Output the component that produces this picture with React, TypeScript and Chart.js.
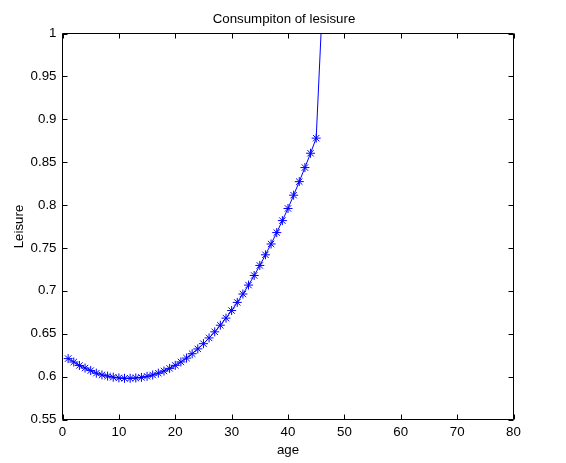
import React, { useEffect, useRef } from "react";
import { Chart, registerables } from "chart.js";

Chart.register(...registerables);

// ---- data ----
const ages = [
  1, 2, 3, 4, 5, 6, 7, 8, 9, 10, 11, 12, 13, 14, 15, 16, 17, 18, 19, 20, 21, 22, 23,
  24, 25, 26, 27, 28, 29, 30, 31, 32, 33, 34, 35, 36, 37, 38, 39, 40, 41, 42, 43, 44,
  45, 46,
];
const leisure = [
  0.621, 0.617, 0.613, 0.61, 0.607, 0.604, 0.602, 0.6006, 0.5993, 0.5985, 0.598,
  0.598, 0.5984, 0.5991, 0.6003, 0.6019, 0.604, 0.6065, 0.6096, 0.6131,
  0.6171, 0.6216, 0.6267, 0.6323, 0.6384, 0.6451, 0.6522, 0.6599, 0.6682, 0.677,
  0.6865, 0.6963, 0.7067, 0.7179, 0.7296, 0.742, 0.7546, 0.7679, 0.7819, 0.796,
  0.8115, 0.8273, 0.8437, 0.8604, 0.878, 1.02,
];
const xTickValues = [0, 10, 20, 30, 40, 50, 60, 70, 80];
const yTickValues = [0.55, 0.6, 0.65, 0.7, 0.75, 0.8, 0.85, 0.9, 0.95, 1];
const titleText = "Consumpiton of lesisure";
const xLabel = "age";
const yLabel = "Leisure";

const FONT = '"Liberation Sans", Arial, Helvetica, sans-serif';
const FONT_SIZE = 13.3;
const TICK = 5;

const decorPlugin = {
  id: "decor",
  afterDraw(chart: any) {
    const { ctx, chartArea } = chart;
    const { left, right, top, bottom } = chartArea;
    const xs = chart.scales.x;
    const ys = chart.scales.y;
    ctx.save();
    ctx.strokeStyle = "#000";
    ctx.lineWidth = 1;
    ctx.beginPath();
    ctx.rect(left, top, right - left, bottom - top);
    for (const v of xTickValues) {
      const px = Math.round(xs.getPixelForValue(v)) + 0.5;
      ctx.moveTo(px, bottom);
      ctx.lineTo(px, bottom - TICK);
      ctx.moveTo(px, top);
      ctx.lineTo(px, top + TICK);
    }
    for (const v of yTickValues) {
      const py = Math.round(ys.getPixelForValue(v)) + 0.5;
      ctx.moveTo(left, py);
      ctx.lineTo(left + TICK, py);
      ctx.moveTo(right, py);
      ctx.lineTo(right - TICK, py);
    }
    ctx.stroke();

    ctx.fillStyle = "#000";
    ctx.font = `${FONT_SIZE}px ${FONT}`;
    ctx.textAlign = "center";
    ctx.textBaseline = "alphabetic";
    const cx = (left + right) / 2;
    ctx.fillText(titleText, cx - 4, 23);
    ctx.fillText(xLabel, cx, 454);
    ctx.translate(23, (top + bottom) / 2);
    ctx.rotate(-Math.PI / 2);
    ctx.fillText(yLabel, 0, 0);
    ctx.restore();
  },
};

export default function App() {
  const canvasRef = useRef<HTMLCanvasElement | null>(null);

  useEffect(() => {
    const canvas = canvasRef.current;
    if (!canvas) return;
    const points = ages.map((a, i) => ({ x: a, y: leisure[i] }));
    const chart = new Chart(canvas, {
      type: "line",
      data: {
        datasets: [
          {
            data: points,
            borderColor: "#0000ff",
            backgroundColor: "#0000ff",
            borderWidth: 1,
            tension: 0,
            fill: false,
            pointStyle: "star",
            pointRadius: (c: any) => (c.dataIndex === ages.length - 1 ? 0 : 4.5),
            pointBorderColor: "#0000ff",
            pointBorderWidth: 1,
            pointHoverRadius: 4.5,
          },
        ],
      },
      options: {
        responsive: false,
        animation: false,
        devicePixelRatio: 1,
        layout: { padding: { left: 0, right: 52.5, top: 33.5, bottom: 0 } },
        plugins: {
          legend: { display: false },
          title: { display: false },
          tooltip: { enabled: false },
        },
        scales: {
          x: {
            type: "linear",
            min: 0,
            max: 80,
            grid: { display: false, drawTicks: false },
            border: { display: false },
            afterBuildTicks: (s: any) => {
              s.ticks = xTickValues.map((v) => ({ value: v }));
            },
            afterFit: (s: any) => {
              s.height = 43.5;
            },
            ticks: {
              color: "#000",
              padding: 4.5,
              maxRotation: 0,
              autoSkip: false,
              font: { family: FONT, size: FONT_SIZE },
              callback: (v: any) => String(v),
            },
          },
          y: {
            type: "linear",
            min: 0.55,
            max: 1,
            grid: { display: false, drawTicks: false },
            border: { display: false },
            afterBuildTicks: (s: any) => {
              s.ticks = yTickValues.map((v) => ({ value: v }));
            },
            afterFit: (s: any) => {
              s.width = 62.5;
            },
            ticks: {
              color: "#000",
              padding: 6,
              autoSkip: false,
              font: { family: FONT, size: FONT_SIZE },
              callback: (v: any) => String(parseFloat(Number(v).toFixed(2))),
            },
          },
        },
      },
      plugins: [decorPlugin],
    } as any);
    return () => chart.destroy();
  }, []);

  return (
    <div style={{ position: "fixed", left: 0, top: 0, width: 566, height: 463, background: "#fff" }}>
      <canvas ref={canvasRef} width={566} height={463} style={{ display: "block" }} />
    </div>
  );
}
